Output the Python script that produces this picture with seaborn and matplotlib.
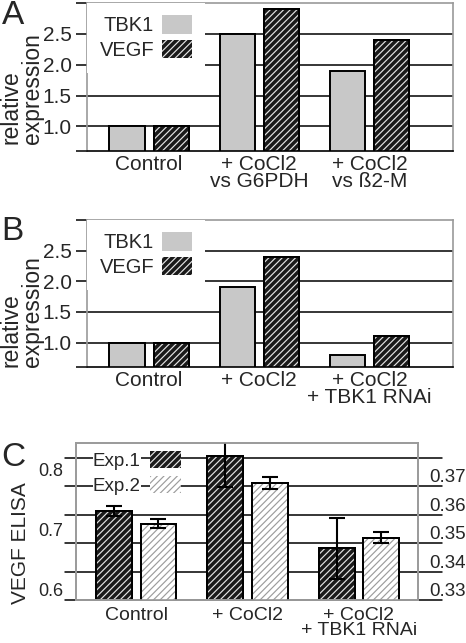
import numpy as np
import pandas as pd
import matplotlib.pyplot as plt
import matplotlib.patches as mpatches
from matplotlib.transforms import blended_transform_factory
import seaborn as sns

# panels A and B: relative expression
genes = ["TBK1", "VEGF"]
a_conditions = ["Control", "+ CoCl2\nvs G6PDH", "+ CoCl2\nvs ß2-M"]
a_tbk1 = [1.0, 2.5, 1.9]
a_vegf = [1.0, 2.9, 2.4]

b_conditions = ["Control", "+ CoCl2", "+ CoCl2\n+ TBK1 RNAi"]
b_tbk1 = [1.0, 1.9, 0.8]
b_vegf = [1.0, 2.4, 1.1]

rel_ticks = [0.6, 1.0, 1.5, 2.0, 2.5, 3.0]
rel_labels = ["", "1.0", "1.5", "2.0", "2.5", ""]
rel_grid = [1.0, 1.5, 2.0, 2.5]

# panel C: VEGF ELISA, two experiments on their own scales
experiments = ["Exp.1", "Exp.2"]
c_conditions = ["Control", "+ CoCl2", "+ CoCl2\n+ TBK1 RNAi"]
c_exp1 = [0.748, 0.840, 0.686]
c_exp1_err = [0.008, 0.052, 0.051]
c_exp2 = [0.3568, 0.3712, 0.3519]
c_exp2_err = [0.0017, 0.0021, 0.0019]
c_left_ticks = [0.6, 0.7, 0.8]
c_right_ticks = [0.33, 0.34, 0.35, 0.36, 0.37]
c_grid = [0.33, 0.34, 0.35, 0.36, 0.37, 0.38]

GRAY_BAR = "#c8c8c8"
DARK = "#1a1a1a"
DARK_STRIPE = "#e4e4e4"
LIGHT_STRIPE = "#9c9c9c"
SPINE = "#9a9a9a"
HATCH = "/////"

sns.set_theme(style="white")
plt.rcParams["font.family"] = ["Liberation Sans", "DejaVu Sans"]
plt.rcParams["hatch.linewidth"] = 0.85

W, H = 466, 643
fig = plt.figure(figsize=(W / 100, H / 100), dpi=100)


def px_axes(left, top, right, bottom):
    return fig.add_axes([left / W, 1 - bottom / H, (right - left) / W, (bottom - top) / H])


def stripe(ax, bars, face, stripe_color):
    # seaborn draws the bars; stripes and outline go on top of each one
    for p in bars:
        p.set_facecolor(face)
        geo = dict(xy=p.get_xy(), width=p.get_width(), height=p.get_height())
        ax.add_patch(mpatches.Rectangle(**geo, fill=False, hatch=HATCH, edgecolor=stripe_color,
                                        linewidth=0, zorder=p.get_zorder() + 0.1))
        ax.add_patch(mpatches.Rectangle(**geo, fill=False, edgecolor="black",
                                        linewidth=p.get_linewidth(), zorder=p.get_zorder() + 0.2))


def style_spines(ax, bottom_color):
    for sp in ax.spines.values():
        sp.set_visible(True)
        sp.set_color(SPINE)
        sp.set_linewidth(1.2)
    ax.spines["bottom"].set_color(bottom_color)


def rel_panel(ax, conditions, tbk1, vegf, letter, letter_xy, label_y):
    df = pd.DataFrame({
        "condition": conditions * 2,
        "gene": np.repeat(genes, len(conditions)),
        "value": tbk1 + vegf,
    })
    sns.barplot(data=df, x="condition", y="value", hue="gene", order=conditions, hue_order=genes,
                palette={"TBK1": GRAY_BAR, "VEGF": DARK}, saturation=1, edgecolor="black",
                linewidth=1.4, width=0.8, gap=0.2, legend=False, zorder=2, ax=ax)
    stripe(ax, ax.containers[1], DARK, DARK_STRIPE)
    for v in rel_grid:
        ax.axhline(v, color="black", lw=1.1, zorder=1)

    ax.set_ylim(rel_ticks[0], rel_ticks[-1])
    ax.set_xlim(-0.564, 2.76)
    ax.set_yticks(rel_ticks, rel_labels)
    ax.tick_params(axis="y", left=True, length=8, width=1.1, color="black", pad=3, labelsize=15)
    ax.set_xticks(range(len(conditions)), conditions, fontsize=15, linespacing=0.88)
    ax.tick_params(axis="x", length=0, pad=3)
    ax.set_xlabel("")
    ax.set_ylabel("relative\nexpression", fontsize=16.5, linespacing=0.9, multialignment="left")
    ax.yaxis.set_label_coords(-0.118, label_y)
    style_spines(ax, "black")

    handles = [mpatches.Patch(facecolor=GRAY_BAR, linewidth=0),
               mpatches.Patch(facecolor=DARK, hatch=HATCH, edgecolor=DARK_STRIPE, linewidth=0)]
    ax.legend(handles, genes, loc="upper left", bbox_to_anchor=(0, 1), markerfirst=False,
              frameon=True, facecolor="white", edgecolor="none", framealpha=1, fancybox=False,
              borderpad=0.62, borderaxespad=0, handlelength=1.5, handleheight=1.0,
              labelspacing=0.25, handletextpad=0.4, fontsize=14.5)
    fig.text(letter_xy[0] / W, 1 - letter_xy[1] / H, letter, fontsize=24, ha="center", va="center")


ax_a = px_axes(87, 3, 453, 151)
rel_panel(ax_a, a_conditions, a_tbk1, a_vegf, "A", (13, 15), 0.42)

ax_b = px_axes(87, 220, 453, 367)
rel_panel(ax_b, b_conditions, b_tbk1, b_vegf, "B", (12, 232), 0.38)

# panel C: Exp.1 on the left scale, Exp.2 on the right scale
ax_c = px_axes(76, 443, 418, 600)
ax_c2 = ax_c.twinx()
palette_c = {"Exp.1": DARK, "Exp.2": "white"}
df_c1 = pd.DataFrame({"condition": c_conditions, "experiment": experiments[0], "value": c_exp1})
df_c2 = pd.DataFrame({"condition": c_conditions, "experiment": experiments[1], "value": c_exp2})
for ax, df in [(ax_c, df_c1), (ax_c2, df_c2)]:
    sns.barplot(data=df, x="condition", y="value", hue="experiment", order=c_conditions,
                hue_order=experiments, palette=palette_c, saturation=1, edgecolor="black",
                linewidth=1.4, width=0.8, gap=0.2, dodge=True, legend=False, zorder=2, ax=ax)
bars1 = [p for c in ax_c.containers for p in c]
bars2 = [p for c in ax_c2.containers for p in c]
stripe(ax_c, bars1, DARK, DARK_STRIPE)
stripe(ax_c2, bars2, "white", LIGHT_STRIPE)

for ax, bars, vals, errs in [(ax_c, bars1, c_exp1, c_exp1_err), (ax_c2, bars2, c_exp2, c_exp2_err)]:
    xs = [p.get_x() + p.get_width() / 2 for p in bars]
    ax.errorbar(xs, vals, yerr=errs, fmt="none", ecolor="black", elinewidth=1.5,
                capsize=6, capthick=1.5, zorder=6)

ax_c.set_ylim(0.6, 0.6 + 157 / 600)
ax_c2.set_ylim(0.33, 0.33 + 157 / 2850)
ax_c.set_xlim(-0.54, 2.53)

trans = blended_transform_factory(ax_c.transAxes, ax_c2.transData)
for v in c_grid:
    ax_c.plot([-0.032, 1.07], [v, v], transform=trans, color="black", lw=1.1,
              clip_on=False, zorder=1)

ax_c.set_yticks(c_left_ticks, [f"{v:.1f}" for v in c_left_ticks])
ax_c.tick_params(axis="y", left=True, length=0, pad=9, labelsize=13)
for t in ax_c.get_yticklabels():
    t.set_verticalalignment("bottom")
ax_c2.set_yticks(c_right_ticks, [f"{v:.2f}" for v in c_right_ticks])
ax_c2.tick_params(axis="y", right=True, length=0, pad=8, labelsize=13.5)
for t in ax_c2.get_yticklabels():
    t.set_verticalalignment("bottom")
ax_c.set_xticks(range(len(c_conditions)), c_conditions, fontsize=14, linespacing=0.85)
ax_c.tick_params(axis="x", length=0, pad=5)
ax_c.set_xlabel("")
ax_c2.set_ylabel("")
ax_c.set_ylabel("VEGF ELISA", fontsize=15)
ax_c.yaxis.set_label_coords(-0.135, 0.36)
style_spines(ax_c, SPINE)
style_spines(ax_c2, SPINE)

handles_c = [mpatches.Patch(facecolor=DARK, hatch=HATCH, edgecolor=DARK_STRIPE, linewidth=0),
             mpatches.Patch(facecolor="white", hatch=HATCH, edgecolor=LIGHT_STRIPE, linewidth=0)]
leg = ax_c2.legend(handles_c, experiments, loc="upper left", bbox_to_anchor=(0, 1.057),
                   markerfirst=False, frameon=False, borderpad=0.4, borderaxespad=0.5,
                   handlelength=1.65, handleheight=1.0, labelspacing=0.36, handletextpad=0.5,
                   fontsize=13.5)
for t in leg.get_texts():
    t.set_bbox(dict(facecolor="white", edgecolor="none", pad=0))
fig.text(13 / W, 1 - 457 / H, "C", fontsize=24, ha="center", va="center")

fig.savefig("out.png", dpi=100)
